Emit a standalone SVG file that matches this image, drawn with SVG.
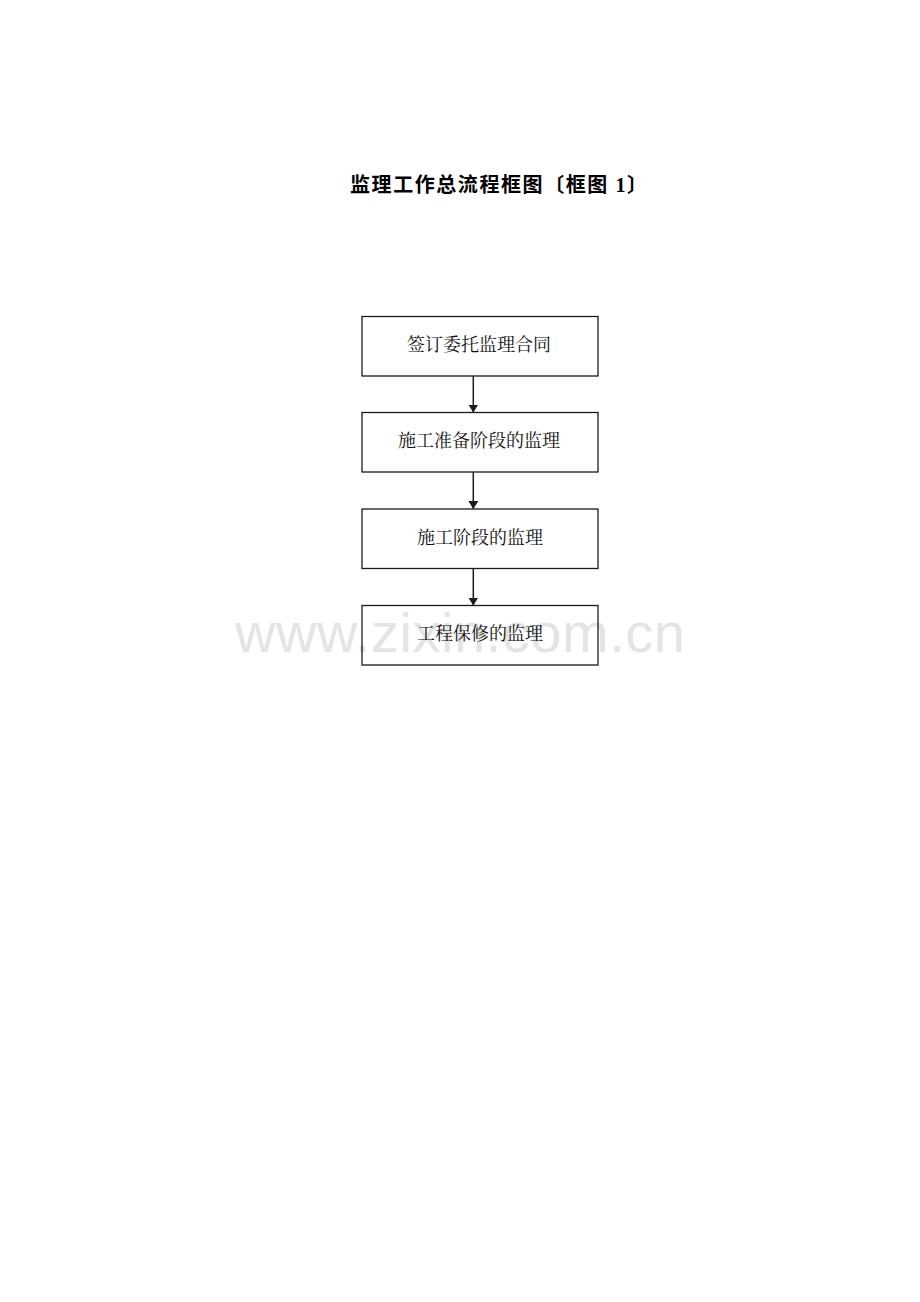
<svg xmlns="http://www.w3.org/2000/svg" width="920" height="1302" viewBox="0 0 920 1302">
  <style>
    .box { fill: none; stroke: #1a1a1a; stroke-width: 1.3; }
    .lbl { font-family: "Noto Serif CJK SC", "Noto Sans CJK SC", serif; font-size: 18px; fill: #111; text-anchor: middle; }
    .title { font-family: "Liberation Serif", "Noto Sans CJK SC", sans-serif; font-size: 20px; font-weight: bold; fill: #000; }
    .wm { font-family: "Liberation Sans", Arial, sans-serif; font-size: 56px; fill: #e4e4e4; }
    .edge { stroke: #1a1a1a; stroke-width: 1.5; fill: none; }
  </style>
  <defs>
    <marker id="arrow" viewBox="0 0 8 10" refX="8" refY="5" markerWidth="8" markerHeight="10" markerUnits="userSpaceOnUse" orient="auto-start-reverse">
      <path d="M0,0 L8,5 L0,10 Z" fill="#1a1a1a"/>
    </marker>
  </defs>
  <rect width="920" height="1302" fill="#ffffff"/>
  <text class="wm" x="235" y="652" textLength="450" lengthAdjust="spacing">www.zixin.com.cn</text>
  <text class="title" x="350" y="192" textLength="297" lengthAdjust="spacing">监理工作总流程框图〔框图 1〕</text>
  <g id="connectors">
    <path class="edge" d="M473.3,376 L473.3,412.5" marker-end="url(#arrow)"/>
    <path class="edge" d="M473.3,472 L473.3,509" marker-end="url(#arrow)"/>
    <path class="edge" d="M473.3,569 L473.3,605.5" marker-end="url(#arrow)"/>
  </g>
  <g id="node1">
    <rect class="box" x="362" y="316.5" width="236" height="59.5"/>
    <text class="lbl" x="479" y="351">签订委托监理合同</text>
  </g>
  <g id="node2">
    <rect class="box" x="362" y="412.5" width="236" height="59.5"/>
    <text class="lbl" x="479" y="447">施工准备阶段的监理</text>
  </g>
  <g id="node3">
    <rect class="box" x="362" y="509" width="236" height="59.5"/>
    <text class="lbl" x="480" y="543.5">施工阶段的监理</text>
  </g>
  <g id="node4">
    <rect class="box" x="362" y="605.5" width="236" height="59.5"/>
    <text class="lbl" x="480" y="640">工程保修的监理</text>
  </g>
</svg>
